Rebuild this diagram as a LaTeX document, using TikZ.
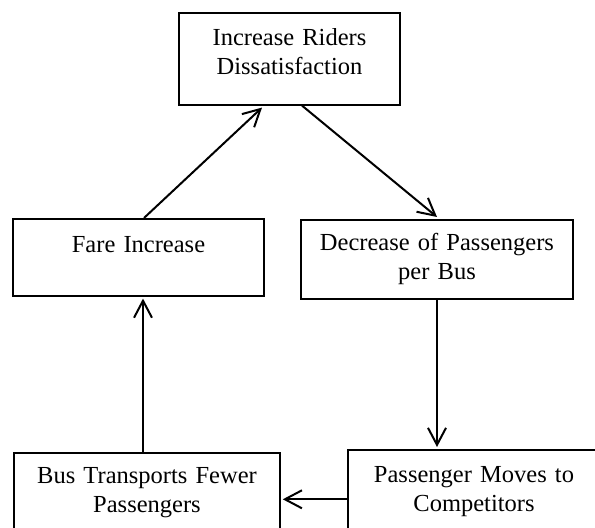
\documentclass[tikz,border=0pt]{standalone}
\usepackage{fontspec}
\setmainfont{Liberation Serif}
\usetikzlibrary{arrows.meta}
\begin{document}
\begin{tikzpicture}[x=0.5pt, y=-0.5pt, every node/.style={font=\fontsize{12.25}{14.5}\selectfont}, blok/.style={draw, rectangle, align=center, inner sep=0pt, line width=0.8pt, anchor=north}, pijl/.style={-{Straight Barb[length=8.5pt, width=9pt, line width=1pt]}, line width=1pt}]
	\useasboundingbox (0,0) rectangle (595,528);
	\node[blok, text width=110.5pt, text height=16.5pt, text depth=29.5pt] (Riders) at (289.5, 12) {Increase Riders\\Dissatisfaction};
	\node[blok, text width=125.5pt, text height=17pt, text depth=21.5pt] (Fare) at (138.5, 218) {Fare Increase};
	\node[blok, text width=136pt, text height=15.5pt, text depth=24pt] (Decrease) at (437, 219) {Decrease of Passengers\\per Bus};
	\node[blok, text width=133pt, text height=15.5pt, text depth=26.5pt] (Fewer) at (147, 452) {Bus Transports Fewer\\Passengers};
	\node[blok, text width=126pt, text height=16.5pt, text depth=27pt] (Moves) at (474, 449) {Passenger Moves to\\Competitors};
	\draw[pijl] ([xshift=2.75pt]Fare.north) -- ([xshift=-13.75pt, yshift=-1pt]Riders.south);
	\draw[pijl] ([xshift=6.25pt]Riders.south) -- ([yshift=1pt]Decrease.north);
	\draw[pijl] (Decrease.south) -- ([yshift=1pt]Decrease.south |- Moves.north);
	\draw[pijl] ([yshift=-3pt]Moves.west) -- ([xshift=1pt, yshift=-3pt]Moves.west -| Fewer.east);
	\draw[pijl] ([xshift=-2pt]Fewer.north) -- ([xshift=-2pt, yshift=-1pt]Fewer.north |- Fare.south);
\end{tikzpicture}
\end{document}
